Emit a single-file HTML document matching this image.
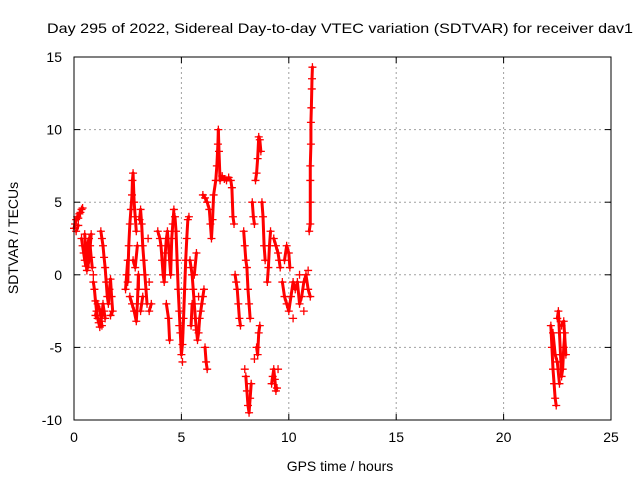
<!DOCTYPE html>
<html><head><meta charset="utf-8"><style>
body{margin:0;background:#fff}
svg{display:block;font-family:"Liberation Sans",sans-serif}
</style></head><body>
<svg width="640" height="480" id="chart">
<text x="340" y="33" text-anchor="middle" font-size="14" textLength="586" lengthAdjust="spacingAndGlyphs">Day 295 of 2022, Sidereal Day-to-day VTEC variation (SDTVAR) for receiver dav1</text>
<text x="340" y="471" text-anchor="middle" font-size="14">GPS time / hours</text>
<text transform="translate(18,238) rotate(-90)" text-anchor="middle" font-size="14">SDTVAR / TECUs</text>
<g id="grid"></g><g id="marks"></g><g id="axes"></g>
</svg>
<script>
const xTicks=[0,5,10,15,20,25];
const yTicks=[-10,-5,0,5,10,15];
const trackTimes=[
[0,0.05,0.1,0.15,0.2,0.25,0.3,0.35,0.4,0.1,0.2],
[0.35,0.4,0.45,0.5,0.55,0.6,0.65,0.7,0.75,0.8,0.85,0.5,0.6,0.7,0.8,0.9],
[0.9,0.95,1.0,1.05,1.1,1.15,1.2,1.25,1.3,1.35,1.4,1.45,1.0,1.1,1.2,1.3],
[1.25,1.3,1.35,1.4,1.45,1.5,1.55,1.6,1.65,1.7,1.75,1.8,1.7],
[2.4,2.45,2.5,2.5,2.55,2.6,2.65,2.7,2.72,2.75,2.8,2.85,2.9,2.6,2.7,2.8,2.9,2.95,3.0,3.0,2.75,2.85,2.95],
[3.05,3.1,3.15,3.2,3.25,3.3,3.35,3.4,3.1,3.2,3.5,3.6,3.45,3.5],
[3.9,4.0,4.05,4.1,4.15,4.2,4.25,4.3,4.35,4.4,4.45,4.5,4.55,4.6,4.65,4.3,4.4,4.45],
[4.7,4.75,4.8,4.85,4.9,4.95,5.0,5.05,5.1,5.15,5.2,5.25,5.3,5.35,5.05,4.9],
[5.4,5.45,5.5,5.55,5.6,5.65,5.7,5.75,5.8,5.85,5.9,5.95,6.0,6.05,6.1,6.15,6.2,5.6,5.7,5.8,5.45,5.5],
[6.0,6.1,6.2,6.3,6.35,6.4,6.45,6.5,6.6,6.65,6.7,6.72,6.75,6.8,6.9,7.0,7.1,7.2,7.3,7.35,7.4,7.45],
[7.5,7.55,7.6,7.65,7.7,7.75],
[7.9,7.95,8.0,8.05,8.1,8.15,8.2,8.0,8.05,8.1,8.15,8.2,8.25,7.95],
[8.3,8.35,8.4,8.45,8.5,8.55,8.6,8.65,8.7,8.75,8.8,8.85,8.9,8.5,8.55,8.6,8.65,8.4],
[9.0,9.05,9.1,9.15,9.2,9.25,9.3,9.35,9.4,9.45,9.3,9.4,9.5,9.55,9.6,9.5],
[9.7,9.8,9.9,10.0,10.1,10.2,10.3,10.4,10.5,10.6,10.7,10.8,10.9,11.0,9.8,9.9,10.0,10.05,10.2,10.5,10.7,10.9],
[10.95,11.0,11.0,11.0,11.0,11.03,11.03,11.05,11.07,11.08,11.1],
[22.2,22.25,22.3,22.35,22.4,22.45,22.5,22.55,22.6,22.65,22.7,22.75,22.8,22.85,22.3,22.4,22.5,22.6,22.7,22.8,22.9]
];
const trackValues=[
[3.2,3.5,3.8,4,3.9,4.2,4.3,4.5,4.6,3.0,3.4],
[2.5,2,1.5,1,0.6,1.5,2.2,2.5,2.0,1.2,0.5,2.8,0.3,1,2.8,0],
[-0.5,-1,-1.8,-2.5,-3,-3.3,-3.6,-3.2,-2.8,-2,-2.5,-3,-2.8,-2,-2.4,-3.5],
[3,2.5,2,1.2,0.5,-0.5,-1.5,-2,-1,-0.3,-1.5,-2.5,-2.8],
[-1,0,1,-0.5,2,3.5,4.5,5.5,6.5,7,5,4,3,-1.5,-2,-2.5,-3.2,-2,0,-1,1,0.5,2],
[3.8,4.5,3.5,2,1,0,-1,-2,-2.5,-1.5,-2.5,-2,2.5,-0.5],
[3,2.5,2,1,0,-0.5,1.5,2.5,3,2,1,0,2.5,3.5,4.5,-2,-3,-4.5],
[4,3,1,-1,-2.5,-4,-5.5,-4.8,-3,-1,1,2.5,3.8,4,-6,-3.5],
[1,0.5,0,-1,-2,-3,-3.8,-4.5,-4,-3,-2.5,-2,-1.5,-1,-5,-6,-6.5,0,1.5,-1.5,-3.5,-2],
[5.5,5.3,5,4.5,3.5,2.5,3.8,5.5,6.5,7.5,9,10,8.5,6.5,6.8,6.6,6.5,6.7,6.5,6,4,3.5],
[0,-0.5,-1,-2,-3,-3.5],
[3,2,1,0.5,-1,-2,-3,-7,-8,-9,-9.5,-8.5,-7.5,-6.5],
[5,4,3.5,6.5,7,8,9.5,9.3,8.5,5,4,2,1,-5,-5.5,-4,-3.5,-5.8],
[-0.5,0.5,2,3,-7.5,-7,-6.5,-7.2,-8,-7.8,2.5,2,1.5,1,0.5,-6.5],
[-0.5,-1.5,-2,-2.5,-1.5,-0.5,-1,-0.5,-2,-1.5,-0.5,0,-1,-1.5,1,2,1.5,0.5,-3,0,-2.5,0.3],
[3,3.5,5,6.5,7.5,9,10.5,11.5,12.8,13.5,14.3],
[-3.5,-5,-6.5,-7.5,-8.5,-9,-3,-2.5,-4,-5.5,-7,-6.5,-5,-4,-4,-5.5,-6,-7.5,-3.5,-3.2,-5.5]
];
const L=74,R=611,T=57,B=420;
const xs=t=>L+(t-0)/25*(R-L);
const ys=v=>B-(v+10)/25*(B-T);
const NS="http://www.w3.org/2000/svg";
function mk(tag,attrs,parent){const e=document.createElementNS(NS,tag);for(const k in attrs)e.setAttribute(k,attrs[k]);parent.appendChild(e);return e;}
const grid=document.getElementById('grid'),marks=document.getElementById('marks'),axes=document.getElementById('axes');
xTicks.forEach(t=>{
 if(t>0&&t<25){const g=mk('line',{x1:xs(t),x2:xs(t),y1:T,y2:B,stroke:'#a0a0a0','stroke-dasharray':'2,3'},grid);
 
 }
 mk('line',{x1:xs(t),x2:xs(t),y1:B,y2:B-6,stroke:'#000'},axes);
 mk('line',{x1:xs(t),x2:xs(t),y1:T,y2:T+6,stroke:'#000'},axes);
 const lb=mk('text',{x:xs(t),y:B+22,'text-anchor':'middle','font-size':'14'},axes);lb.textContent=t;
 
 
});
yTicks.forEach(v=>{
 if(v>-10&&v<15){const g=mk('line',{x1:L,x2:R,y1:ys(v),y2:ys(v),stroke:'#a0a0a0','stroke-dasharray':'2,3'},grid);
 
 }
 mk('line',{x1:L,x2:L+6,y1:ys(v),y2:ys(v),stroke:'#000'},axes);
 mk('line',{x1:R,x2:R-6,y1:ys(v),y2:ys(v),stroke:'#000'},axes);
 const lb=mk('text',{x:L-12,y:ys(v)+5,'text-anchor':'end','font-size':'14'},axes);lb.textContent=v;
 
 
});
const fr=mk('rect',{x:L,y:T,width:R-L,height:B-T,fill:'none',stroke:'#000'},axes);


trackTimes.forEach((tt,i)=>{
 const vv=trackValues[i];
 for(let j=1;j<tt.length;j++){
  if(Math.abs(vv[j]-vv[j-1])<2.6 && Math.abs(tt[j]-tt[j-1])<0.12){
   const sg=mk('line',{x1:xs(tt[j-1]),y1:ys(vv[j-1]),x2:xs(tt[j]),y2:ys(vv[j]),stroke:'#f00','stroke-width':3,'stroke-linecap':'round'},marks);
   
   
  }
 }
 tt.forEach((t,j)=>{
  const x=xs(t),y=ys(vv[j]);
  const p=mk('path',{d:`M${x-4},${y}H${x+4}M${x},${y-4}V${y+4}`,stroke:'#f00','stroke-width':1.3},marks);
  
  
 });
});
</script>
</body></html>
